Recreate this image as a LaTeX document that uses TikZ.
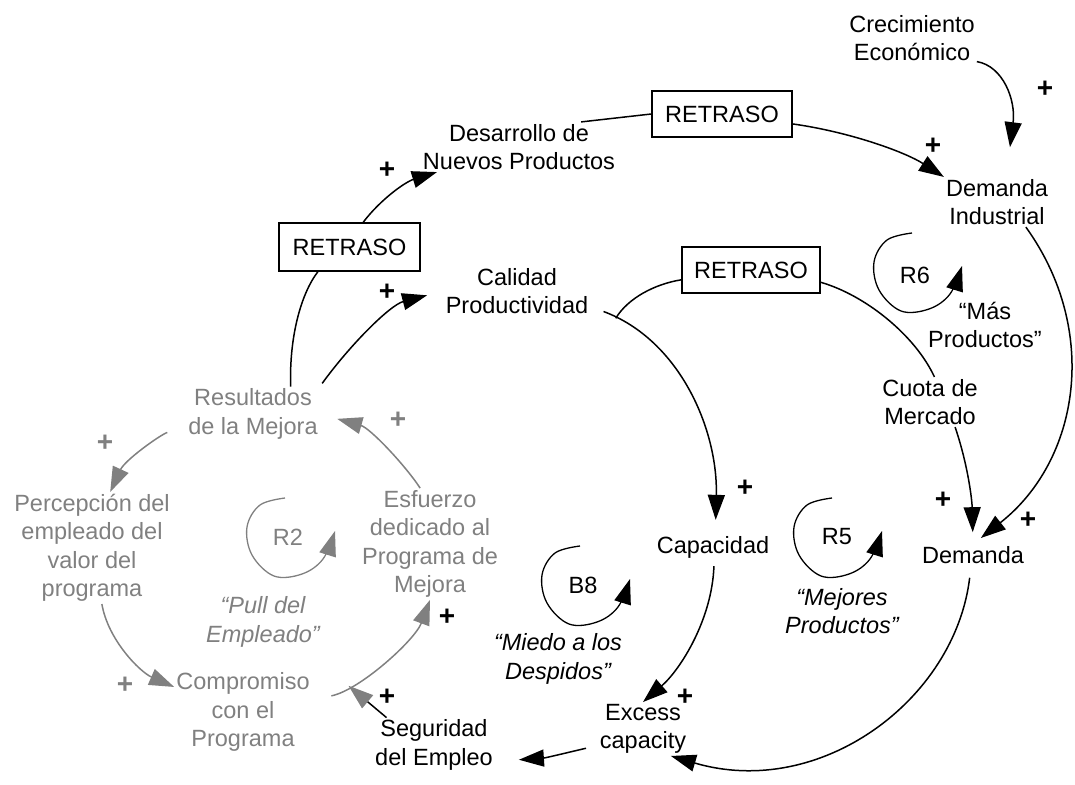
\documentclass[tikz,border=0pt]{standalone}
\usepackage{fontspec}
\setmainfont{Liberation Sans}
\usetikzlibrary{arrows.meta}
\definecolor{loopgray}{RGB}{128,128,128}
\tikzset{
  every node/.style={font=\fontsize{23.5}{28.5}\selectfont, align=center, inner sep=2pt},
  faded/.style={text=loopgray},
  delaybox/.style={draw, line width=1.4pt, minimum width=140pt, minimum height=46pt, inner sep=0pt},
  tiplook/.style={-{Triangle[length=25pt,width=17pt]}},
  arr/.style={line width=1.5pt, tiplook},
  linkline/.style={line width=1.5pt},
  garr/.style={arr, loopgray},
  signmark/.style={font=\fontsize{28}{28}\selectfont\bfseries, inner sep=0pt},
  loopname/.style={font=\fontsize{23.5}{28.5}\selectfont\itshape},
  loopmark/.pic={\draw[line width=1.3pt, tiplook] plot[smooth, tension=0.6]
     coordinates {(-3,-39) (-28,-32) (-41,-10) (-36,18) (-14,39) (14,37) (35,22) (47,-6)};}
}
\begin{document}
\begin{tikzpicture}[x=1pt,y=-1pt]
\useasboundingbox (0,0) rectangle (1075,784);

% variables
\node (crec) at (912,38) {Crecimiento\\Económico};
\node[delaybox] (retA) at (722,114) {RETRASO};
\node (desarrollo) at (519,147) {Desarrollo de\\Nuevos Productos};
\node (demind) at (997,202) {Demanda\\Industrial};
\node[delaybox, minimum width=141pt, minimum height=48pt] (retB) at (349.5,247) {RETRASO};
\node (calidad) at (517,291) {Calidad\\Productividad};
\node[delaybox, minimum width=138pt] (retC) at (751,270) {RETRASO};
\node (cuota) at (930,402) {Cuota de\\Mercado};
\node[faded] (resultados) at (253,414) {Resultados\\de la Mejora};
\node[faded] (percepcion) at (92,548) {Percepción del\\empleado del\\valor del\\programa};
\node[faded] (esfuerzo) at (430,544) {Esfuerzo\\dedicado al\\Programa de\\Mejora};
\node[faded] (compromiso) at (243,712) {Compromiso\\con el\\Programa};
\node (capacidad) at (713,547) {Capacidad};
\node (demanda) at (973,555) {Demanda};
\node (excess) at (643,729) {Excess\\capacity};
\node (seguridad) at (434,745) {Seguridad\\del Empleo};

% loop markers and names
\pic[loopgray] at (288,537) {loopmark};
\pic at (915,272) {loopmark};
\pic at (583,585) {loopmark};
\pic at (835,537) {loopmark};
\node[faded] (r2) at (288,537) {R2};
\node (r6) at (915,275) {R6};
\node (b8) at (583,585) {B8};
\node (r5) at (837,537) {R5};
\node[faded, loopname] (pull) at (263,622) {“Pull del\\Empleado”};
\node[loopname] (miedo) at (558,659) {“Miedo a los\\Despidos”};
\node[loopname] (mejores) at (842,611) {“Mejores\\Productos”};
\node (mas) at (985,325) {“Más\\Productos”};

% polarity signs
\node[signmark] (s1) at (1045,89) {+};
\node[signmark] (s2) at (933,146) {+};
\node[signmark] (s3) at (387,170) {+};
\node[signmark] (s4) at (387,292) {+};
\node[signmark] (s5) at (745,488) {+};
\node[signmark] (s6) at (943,500) {+};
\node[signmark] (s7) at (1028,520) {+};
\node[signmark] (s8) at (685,697) {+};
\node[signmark] (s9) at (447,617) {+};
\node[signmark] (s10) at (387,697) {+};
\node[signmark, text=loopgray] (g1) at (398,420) {+};
\node[signmark, text=loopgray] (g2) at (105,443) {+};
\node[signmark, text=loopgray] (g3) at (125,685) {+};

% links, outer chain
\draw[arr, shorten >=30pt] (crec.-20) .. controls (1003,66) and (1016,100) .. (demind.70);
\draw[linkline] (desarrollo.22) -- (retA.west);
\draw[arr] (retA.-8) .. controls (850,132) and (905,152) .. (demind.north west);
\draw[linkline] (resultados.36) .. controls (289,340) and (300,295) .. (retB.-142);
\draw[arr] (retB.61) .. controls (380,200) and (405,182) .. (desarrollo.-163);
\draw[arr, shorten <=4pt, shorten >=17pt] (resultados.north east) .. controls (350,345) and (390,305) .. (calidad.west);
\draw[arr, shorten <=14pt, shorten >=14pt] (calidad.-12) .. controls (680,340) and (718,430) .. (capacidad.80) coordinate[pos=0.1] (branch);
\draw[linkline] (branch) .. controls (628,298) and (655,284) .. (retC.-172);
\draw[linkline] (retC.-10) .. controls (865,295) and (915,335) .. (cuota.80);
\draw[arr, shorten >=10pt] (demind.-41) .. controls (1100,330) and (1080,460) .. (demanda.north);
\draw[arr, shorten >=12pt] (cuota.-45) .. controls (968,465) and (972,500) .. (demanda.north);
\draw[arr, shorten <=6pt] (capacidad.-85) .. controls (712,620) and (680,670) .. (excess.north);
\draw[arr, shorten <=12pt] (demanda.-100) .. controls (955,700) and (820,800) .. (excess.-44);
\draw[arr, shorten <=12pt, shorten >=24pt] (excess.-160) .. controls (570,752) and (545,758) .. (seguridad.-15);

% links, employee loop
\draw[garr, shorten <=20pt] (compromiso.10) .. controls (360,690) and (415,640) .. (esfuerzo.south) coordinate[pos=0.25] (secure);
\draw[line width=1.5pt, -{Triangle[length=25pt,width=17pt,color=loopgray]}] (seguridad.150) -- (secure);
\draw[garr, shorten >=18pt] (esfuerzo.100) .. controls (405,465) and (370,428) .. (resultados.east);
\draw[garr, shorten <=20pt] (resultados.-170) .. controls (160,435) and (125,460) .. (percepcion.72);
\draw[garr] (percepcion.-80) .. controls (108,640) and (140,672) .. (compromiso.160);
\end{tikzpicture}
\end{document}
